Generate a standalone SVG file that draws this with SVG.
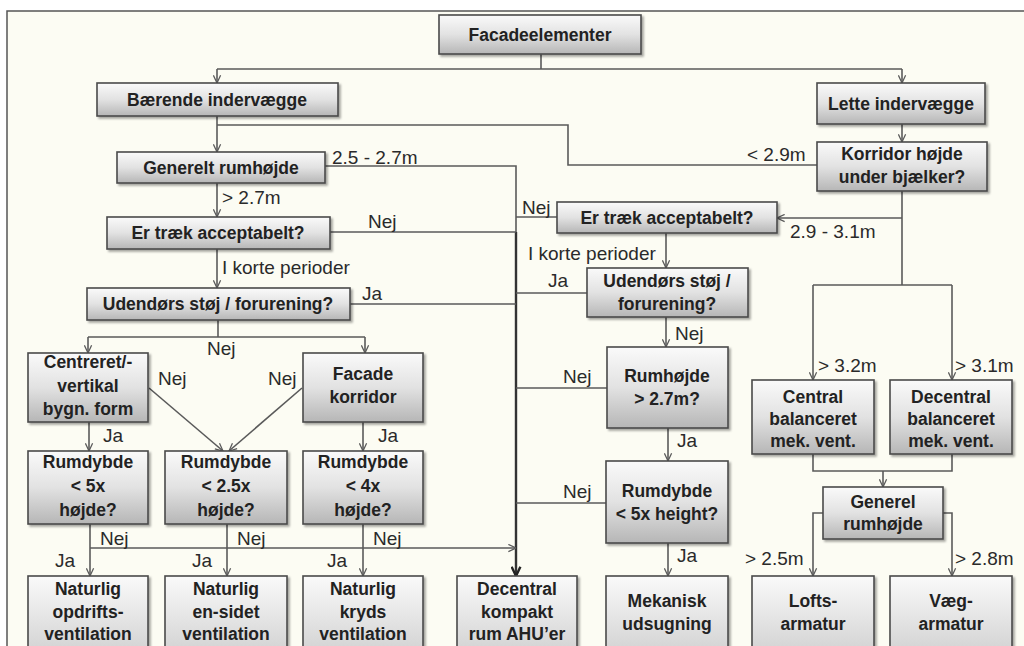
<svg xmlns="http://www.w3.org/2000/svg" width="1024" height="646" viewBox="0 0 1024 646">
<defs>
<linearGradient id="g" x1="0" y1="0" x2="0" y2="1">
<stop offset="0" stop-color="#fafafa"/>
<stop offset="0.5" stop-color="#e2e2e2"/>
<stop offset="1" stop-color="#b6b6b6"/>
</linearGradient>
<linearGradient id="g2" x1="0" y1="0" x2="0" y2="1">
<stop offset="0" stop-color="#fafafa"/>
<stop offset="1" stop-color="#d4d4d4"/>
</linearGradient>
<filter id="sh" x="-10%" y="-10%" width="130%" height="140%">
<feDropShadow dx="2" dy="2" stdDeviation="1.2" flood-color="#000" flood-opacity="0.35"/>
</filter>
<marker id="a" viewBox="0 0 10 10" refX="9.5" refY="5" markerWidth="9" markerHeight="9" markerUnits="userSpaceOnUse" orient="auto">
<path d="M1,1 L9.5,5 L1,9" fill="none" stroke="#5a5a5a" stroke-width="1.4"/>
</marker>
<marker id="ad" viewBox="0 0 10 10" refX="9.5" refY="5" markerWidth="11" markerHeight="11" markerUnits="userSpaceOnUse" orient="auto">
<path d="M1,1 L9.5,5 L1,9" fill="none" stroke="#222" stroke-width="2.2"/>
</marker>
</defs>
<style>
.b{fill:url(#g);stroke:#4a4a4a;stroke-width:1.6;filter:url(#sh)}
.bl{fill:url(#g2);stroke:#4a4a4a;stroke-width:1.6;filter:url(#sh)}
.t{font-family:"Liberation Sans",Arial,sans-serif;font-weight:bold;font-size:17.5px;fill:#222;text-anchor:middle}
.l{font-family:"Liberation Sans",Arial,sans-serif;font-size:19px;fill:#2a2a2a}
.c{fill:none;stroke:#5a5a5a;stroke-width:1.6}
.ca{fill:none;stroke:#5a5a5a;stroke-width:1.6;marker-end:url(#a)}
</style>
<rect x="0" y="0" width="1024" height="646" fill="#ffffff"/>
<rect x="7" y="11" width="1030" height="650" fill="#fcfcf3" stroke="#555" stroke-width="1.5"/>

<g id="connectors">
<path class="c" d="M541,54 V69 M217,69 H902"/>
<path class="ca" d="M217,69 V83"/>
<path class="ca" d="M902,69 V83"/>
<path class="ca" d="M217,116 V152"/>
<path class="c" d="M817,165 H568 V125 H217"/>
<path class="ca" d="M902,124 V142"/>
<path class="c" d="M325,166 H516 V232"/>
<path fill="none" stroke="#333" stroke-width="2.4" marker-end="url(#ad)" d="M516,232 V576"/>
<path class="ca" d="M217,183 V217"/>
<path class="c" d="M330,232 H516"/>
<path class="ca" d="M217,249 V288"/>
<path class="c" d="M350,304 H516"/>
<path class="c" d="M218,320 V337 M88,337 H365"/>
<path class="ca" d="M88,337 V353"/>
<path class="ca" d="M365,337 V353"/>
<path class="ca" d="M149,388 L223,451"/>
<path class="ca" d="M302,388 L229,451"/>
<path class="ca" d="M89,422 V451"/>
<path class="ca" d="M363,422 V451"/>
<path class="ca" d="M90,524 V576"/>
<path class="ca" d="M227,524 V576"/>
<path class="ca" d="M363,524 V576"/>
<path class="ca" d="M90,548 H516"/>
<path class="c" d="M557,217 H516"/>
<path class="c" d="M902,191 V285 M813,285 H952"/>
<path class="ca" d="M902,218 H777"/>
<path class="ca" d="M813,285 V380"/>
<path class="ca" d="M952,285 V380"/>
<path class="ca" d="M666,233 V268"/>
<path class="c" d="M587,293 H516"/>
<path class="ca" d="M666,317 V347"/>
<path class="c" d="M607,388 H516"/>
<path class="ca" d="M668,428 V461"/>
<path class="c" d="M606,503 H516"/>
<path class="ca" d="M668,543 V576"/>
<path class="c" d="M813,454 V471 H952 V454"/>
<path class="ca" d="M883,471 V487"/>
<path class="ca" d="M823,513 H813 V576"/>
<path class="ca" d="M943,513 H952 V576"/>
</g>

<g id="labels">
<text class="l" x="332" y="164">2.5 - 2.7m</text>
<text class="l" x="222" y="204">&gt; 2.7m</text>
<text class="l" x="368" y="228">Nej</text>
<text class="l" x="222" y="274">I korte perioder</text>
<text class="l" x="362" y="300">Ja</text>
<text class="l" x="207" y="355">Nej</text>
<text class="l" x="158" y="385">Nej</text>
<text class="l" x="268" y="385">Nej</text>
<text class="l" x="103" y="442">Ja</text>
<text class="l" x="378" y="442">Ja</text>
<text class="l" x="100" y="545">Nej</text>
<text class="l" x="237" y="545">Nej</text>
<text class="l" x="373" y="545">Nej</text>
<text class="l" x="55" y="567">Ja</text>
<text class="l" x="192" y="567">Ja</text>
<text class="l" x="327" y="567">Ja</text>
<text class="l" x="522" y="214">Nej</text>
<text class="l" x="528" y="260">I korte perioder</text>
<text class="l" x="790" y="238">2.9 - 3.1m</text>
<text class="l" x="747" y="161">&lt; 2.9m</text>
<text class="l" x="548" y="287">Ja</text>
<text class="l" x="675" y="340">Nej</text>
<text class="l" x="563" y="383">Nej</text>
<text class="l" x="563" y="498">Nej</text>
<text class="l" x="677" y="447">Ja</text>
<text class="l" x="677" y="562">Ja</text>
<text class="l" x="818" y="372">&gt; 3.2m</text>
<text class="l" x="955" y="372">&gt; 3.1m</text>
<text class="l" x="745" y="565">&gt; 2.5m</text>
<text class="l" x="955" y="565">&gt; 2.8m</text>
</g>

<g id="n-facade"><rect class="b" x="439" y="15" width="202" height="39"/><text class="t" x="540" y="41">Facadeelementer</text></g>
<g id="n-baerende"><rect class="b" x="97" y="83" width="241" height="33"/><text class="t" x="217" y="106">Bærende indervægge</text></g>
<g id="n-lette"><rect class="b" x="817" y="83" width="168" height="41"/><text class="t" x="901" y="110">Lette indervægge</text></g>
<g id="n-generelt"><rect class="b" x="117" y="152" width="208" height="31"/><text class="t" x="221" y="174">Generelt rumhøjde</text></g>
<g id="n-korridor"><rect class="b" x="817" y="142" width="170" height="49"/><text class="t" x="902" y="160">Korridor højde</text><text class="t" x="902" y="183">under bjælker?</text></g>
<g id="n-traek1"><rect class="b" x="107" y="217" width="223" height="32"/><text class="t" x="218" y="239">Er træk acceptabelt?</text></g>
<g id="n-traek2"><rect class="b" x="557" y="202" width="220" height="31"/><text class="t" x="667" y="224">Er træk acceptabelt?</text></g>
<g id="n-stoej1"><rect class="b" x="87" y="288" width="263" height="32"/><text class="t" x="218" y="310">Udendørs støj / forurening?</text></g>
<g id="n-stoej2"><rect class="b" x="587" y="268" width="161" height="49"/><text class="t" x="667" y="287">Udendørs støj /</text><text class="t" x="667" y="310">forurening?</text></g>
<g id="n-centreret"><rect class="b" x="28" y="353" width="120" height="69"/><text class="t" x="88" y="368">Centreret/-</text><text class="t" x="88" y="392">vertikal</text><text class="t" x="88" y="415">bygn. form</text></g>
<g id="n-fkorridor"><rect class="b" x="303" y="353" width="120" height="69"/><text class="t" x="363" y="380">Facade</text><text class="t" x="363" y="403">korridor</text></g>
<g id="n-rumhoejde"><rect class="b" x="607" y="347" width="121" height="81"/><text class="t" x="667" y="382">Rumhøjde</text><text class="t" x="667" y="405">&gt; 2.7m?</text></g>
<g id="n-central"><rect class="b" x="752" y="380" width="122" height="74"/><text class="t" x="813" y="403">Central</text><text class="t" x="813" y="425">balanceret</text><text class="t" x="813" y="447">mek. vent.</text></g>
<g id="n-decentral-b"><rect class="b" x="890" y="380" width="122" height="74"/><text class="t" x="951" y="403">Decentral</text><text class="t" x="951" y="425">balanceret</text><text class="t" x="951" y="447">mek. vent.</text></g>
<g id="n-rd5"><rect class="b" x="28" y="451" width="120" height="73"/><text class="t" x="88" y="468">Rumdybde</text><text class="t" x="88" y="492">&lt; 5x</text><text class="t" x="88" y="516">højde?</text></g>
<g id="n-rd25"><rect class="b" x="165" y="451" width="122" height="73"/><text class="t" x="226" y="468">Rumdybde</text><text class="t" x="226" y="492">&lt; 2.5x</text><text class="t" x="226" y="516">højde?</text></g>
<g id="n-rd4"><rect class="b" x="303" y="451" width="120" height="73"/><text class="t" x="363" y="468">Rumdybde</text><text class="t" x="363" y="492">&lt; 4x</text><text class="t" x="363" y="516">højde?</text></g>
<g id="n-rdh"><rect class="b" x="606" y="461" width="122" height="82"/><text class="t" x="667" y="497">Rumdybde</text><text class="t" x="667" y="520">&lt; 5x height?</text></g>
<g id="n-generel"><rect class="b" x="823" y="487" width="120" height="52"/><text class="t" x="883" y="508">Generel</text><text class="t" x="883" y="530">rumhøjde</text></g>
<g id="n-opdrift"><rect class="bl" x="28" y="576" width="120" height="74"/><text class="t" x="88" y="595">Naturlig</text><text class="t" x="88" y="618">opdrifts-</text><text class="t" x="88" y="640">ventilation</text></g>
<g id="n-ensidet"><rect class="bl" x="165" y="576" width="122" height="74"/><text class="t" x="226" y="595">Naturlig</text><text class="t" x="226" y="618">en-sidet</text><text class="t" x="226" y="640">ventilation</text></g>
<g id="n-kryds"><rect class="bl" x="303" y="576" width="120" height="74"/><text class="t" x="363" y="595">Naturlig</text><text class="t" x="363" y="618">kryds</text><text class="t" x="363" y="640">ventilation</text></g>
<g id="n-kompakt"><rect class="bl" x="457" y="576" width="120" height="74"/><text class="t" x="517" y="595">Decentral</text><text class="t" x="517" y="618">kompakt</text><text class="t" x="517" y="640">rum AHU’er</text></g>
<g id="n-mekanisk"><rect class="bl" x="606" y="576" width="122" height="74"/><text class="t" x="667" y="607">Mekanisk</text><text class="t" x="667" y="630">udsugning</text></g>
<g id="n-lofts"><rect class="bl" x="752" y="576" width="122" height="74"/><text class="t" x="813" y="607">Lofts-</text><text class="t" x="813" y="630">armatur</text></g>
<g id="n-vaeg"><rect class="bl" x="890" y="576" width="122" height="74"/><text class="t" x="951" y="607">Væg-</text><text class="t" x="951" y="630">armatur</text></g>
</svg>
